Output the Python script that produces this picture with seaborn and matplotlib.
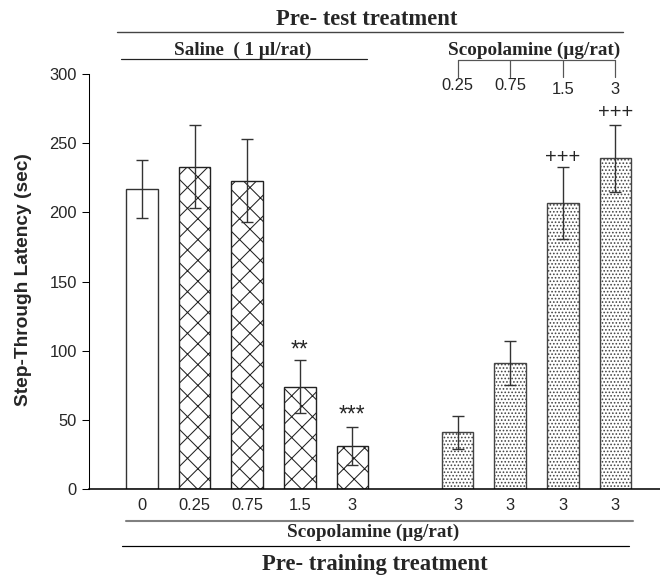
import matplotlib
matplotlib.use("Agg")
import matplotlib.pyplot as plt
import matplotlib.transforms as mtransforms
import seaborn as sns
import pandas as pd

# DATA
bar_ids = ["sal_0", "sal_0.25", "sal_0.75", "sal_1.5", "sal_3",
           "scop_0.25", "scop_0.75", "scop_1.5", "scop_3"]
pretrain_dose = ["0", "0.25", "0.75", "1.5", "3", "3", "3", "3", "3"]
pretest = ["Saline", "Saline", "Saline", "Saline", "Saline",
           "Scopolamine", "Scopolamine", "Scopolamine", "Scopolamine"]
pretest_dose = ["", "", "", "", "", "0.25", "0.75", "1.5", "3"]
latency = [217, 233, 223, 74, 31, 41, 91, 206.5, 239]
sem = [21, 30, 30, 19, 13.5, 12, 16, 26, 24]
marks = ["", "", "", "**", "***", "", "", "+++", "+++"]
mark_y = [0, 0, 0, 96, 49, 0, 0, 236, 268]

df = pd.DataFrame({"bar": bar_ids, "latency": latency, "sem": sem,
                   "pretrain": pretrain_dose, "pretest": pretest})

sns.set_style("white")
plt.rcParams["font.family"] = ["Liberation Sans", "DejaVu Sans"]
plt.rcParams["hatch.linewidth"] = 0.6

W, H = 660, 576
fig = plt.figure(figsize=(W / 125, H / 125), dpi=125)
fx = lambda px: px / W
fy = lambda py: 1 - py / H

ax = fig.add_axes([fx(89), fy(489), fx(660 - 89), 415 / H])

# leave an empty slot between the two pre-test groups
order = bar_ids[:5] + ["gap"] + bar_ids[5:]
xpos = [order.index(b) for b in bar_ids]

sns.barplot(data=df, x="bar", y="latency", order=order, width=0.6,
            color="white", edgecolor="#333333", linewidth=0.8,
            errorbar=None, ax=ax)

for p in ax.patches:
    c = p.get_x() + p.get_width() / 2
    if abs(c - xpos[0]) < 0.3:
        continue
    i = min(range(len(xpos)), key=lambda k: abs(xpos[k] - c))
    if df.pretest[i] == "Saline":
        p.set_hatch("xx")
        p.set_edgecolor("#222222")
    else:
        p.set_hatch("......")
        p.set_edgecolor("#444444")

ax.errorbar(xpos, latency, yerr=sem, fmt="none", ecolor="#333333",
            elinewidth=0.8, capsize=3.6, capthick=0.8)

for x, m, y in zip(xpos, marks, mark_y):
    if m:
        ax.text(x, y, m, ha="center", va="baseline",
                fontsize=13 if "*" in m else 11.5)

ax.set_ylim(0, 300)
ax.set_xlim(-1.01, 9.85)
ax.set_yticks(range(0, 301, 50))
ax.set_xticks(xpos)
ax.set_xticklabels(pretrain_dose)
ax.set_xlabel("")
ax.set_ylabel("")
ax.tick_params(axis="y", direction="out", length=4, width=0.6, pad=3,
               labelsize=9.5, left=True, color="black")
ax.tick_params(axis="x", length=0, pad=5, labelsize=9.5)
sns.despine(ax=ax)
ax.spines["left"].set_linewidth(0.6)
ax.spines["bottom"].set_linewidth(0.9)
ax.spines["left"].set_color("black")
ax.spines["bottom"].set_color("black")

fig.text(fx(24), fy(280), "Step-Through Latency (sec)", rotation=90,
         ha="center", va="center", fontsize=11, fontweight="bold")

serif = ["Liberation Serif", "DejaVu Serif"]


def hline(x0, x1, y, lw=0.6, color="black"):
    fig.add_artist(plt.Line2D([fx(x0), fx(x1)], [fy(y), fy(y)],
                              transform=fig.transFigure, lw=lw, color=color))


# top annotation: pre-test treatment
fig.text(fx(367), fy(25), "Pre- test treatment", ha="center", va="baseline",
         fontsize=13, fontweight="bold", family=serif)
hline(117, 623, 32.3, lw=0.8, color="#444444")
fig.text(fx(243), fy(55), "Saline  ( 1 \u00b5l/rat)", ha="center", va="baseline",
         fontsize=11, fontweight="bold", family=serif)
hline(121, 367, 58.7, lw=0.7, color="#222222")
fig.text(fx(534), fy(55), "Scopolamine (\u00b5g/rat)", ha="center", va="baseline",
         fontsize=11, fontweight="bold", family=serif)

bt = mtransforms.blended_transform_factory(ax.transData, fig.transFigure)
scop_x = [x for x, g in zip(xpos, pretest) if g == "Scopolamine"]
scop_lbl = [d for d, g in zip(pretest_dose, pretest) if g == "Scopolamine"]
fig.add_artist(plt.Line2D([scop_x[0], scop_x[-1]], [fy(60), fy(60)],
                          transform=bt, lw=0.7, color="#555555"))
for i, (x, lbl) in enumerate(zip(scop_x, scop_lbl)):
    fig.add_artist(plt.Line2D([x, x], [fy(60), fy(77)], transform=bt,
                              lw=0.7, color="#555555"))
    yl = 86 if i < 2 else 89
    fig.text(x, fy(yl), lbl, transform=bt, ha="center", va="center",
             fontsize=9.5)

# bottom annotation: pre-training treatment
hline(126, 633, 520.7, lw=1.2, color="#808080")
fig.text(fx(373), fy(537), "Scopolamine (\u00b5g/rat)", ha="center",
         va="baseline", fontsize=11, fontweight="bold", family=serif)
hline(122, 629, 545.7, lw=0.7, color="black")
fig.text(fx(375), fy(570), "Pre- training treatment", ha="center",
         va="baseline", fontsize=13, fontweight="bold", family=serif)

fig.savefig("out.png", dpi=125)
